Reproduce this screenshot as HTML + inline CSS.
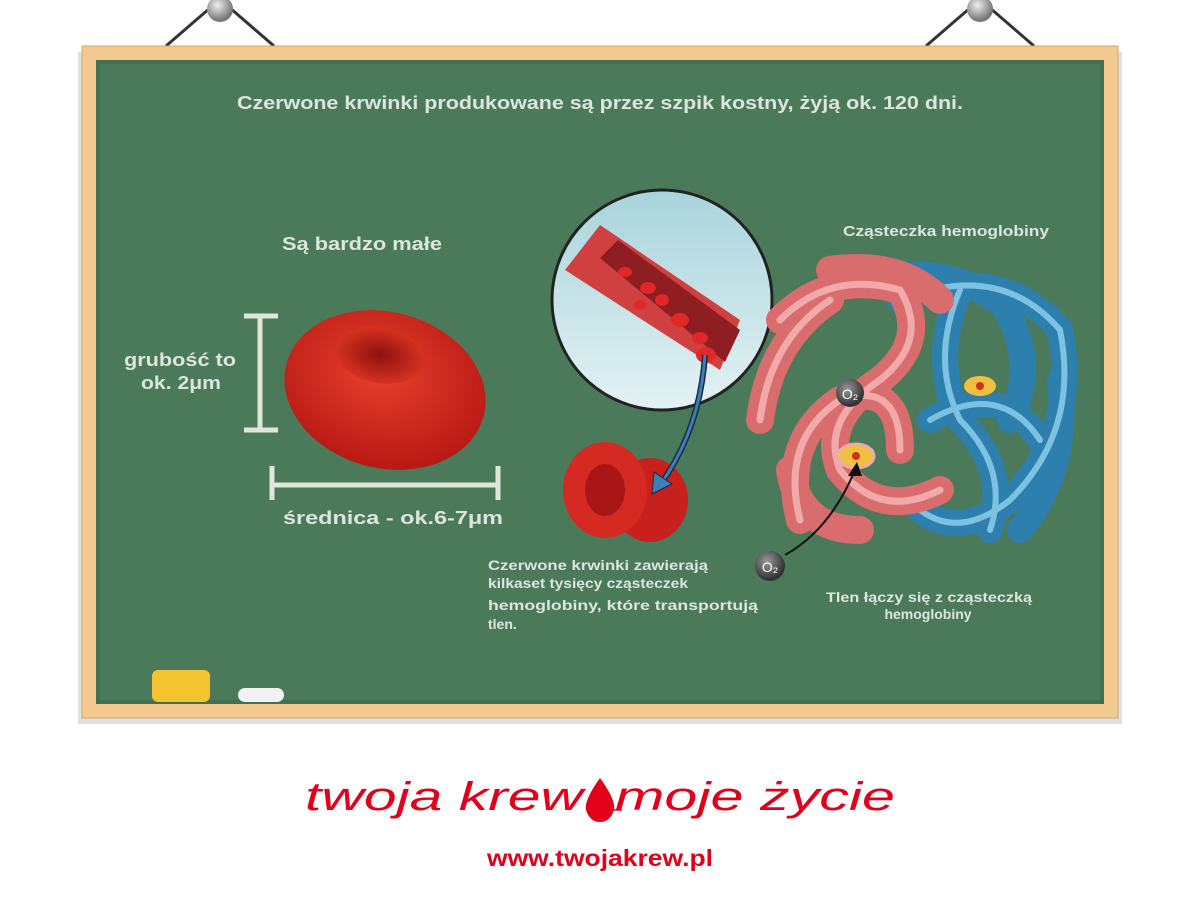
<!DOCTYPE html>
<html><head><meta charset="utf-8"><style>
body{margin:0;width:1200px;height:900px;background:#fff;overflow:hidden}
text{font-family:"Liberation Sans",sans-serif}
</style></head><body>
<svg width="1200" height="900" viewBox="0 0 1200 900">
<defs>
<radialGradient id="pin" cx="0.4" cy="0.35" r="0.6"><stop offset="0" stop-color="#eee"/><stop offset="1" stop-color="#777"/></radialGradient>
<radialGradient id="cell" cx="0.45" cy="0.4" r="0.6"><stop offset="0" stop-color="#e8402e"/><stop offset="1" stop-color="#b81a14"/></radialGradient>
<radialGradient id="dimp" cx="0.5" cy="0.5" r="0.5"><stop offset="0" stop-color="#8e1010"/><stop offset="1" stop-color="#d6321f"/></radialGradient>
<linearGradient id="sky" x1="0" y1="0" x2="0" y2="1"><stop offset="0" stop-color="#a8d4dc"/><stop offset="1" stop-color="#e4f2f4"/></linearGradient>
<radialGradient id="o2" cx="0.4" cy="0.35" r="0.6"><stop offset="0" stop-color="#999"/><stop offset="1" stop-color="#333"/></radialGradient>
</defs>
<g stroke="#333" stroke-width="3"><line x1="166" y1="46" x2="210" y2="8"/><line x1="274" y1="46" x2="230" y2="8"/><line x1="926" y1="46" x2="970" y2="8"/><line x1="1034" y1="46" x2="990" y2="8"/></g>
<circle cx="220" cy="9" r="13" fill="url(#pin)"/><circle cx="980" cy="9" r="13" fill="url(#pin)"/>
<rect x="78" y="52" width="1044" height="672" fill="#000" opacity="0.12"/>
<rect x="82" y="46" width="1036" height="672" fill="#f2c98e" stroke="#d4a86a"/>
<rect x="96" y="60" width="1008" height="644" fill="#4b7a5b"/>
<rect x="98" y="62" width="1004" height="640" fill="none" stroke="#426f52" stroke-width="4"/>
<text x="237" y="109" font-size="18" fill="#dde6dc" font-weight="bold" textLength="726" lengthAdjust="spacingAndGlyphs">Czerwone krwinki produkowane są przez szpik kostny, żyją ok. 120 dni.</text>
<text x="282" y="250" font-size="18" fill="#dde6dc" font-weight="bold" textLength="160" lengthAdjust="spacingAndGlyphs">Są bardzo małe</text>
<text x="124" y="366" font-size="18" fill="#dde6dc" font-weight="bold" textLength="112" lengthAdjust="spacingAndGlyphs">grubość to</text>
<text x="141" y="389" font-size="18" fill="#dde6dc" font-weight="bold" textLength="80" lengthAdjust="spacingAndGlyphs">ok. 2μm</text>
<text x="283" y="524" font-size="18" fill="#dde6dc" font-weight="bold" textLength="220" lengthAdjust="spacingAndGlyphs">średnica - ok.6-7μm</text>
<text x="843" y="236" font-size="15" fill="#dde6dc" font-weight="bold" textLength="206" lengthAdjust="spacingAndGlyphs">Cząsteczka hemoglobiny</text>
<g font-size="14" fill="#dde6dc" font-weight="bold"><text x="488" y="570" textLength="220" lengthAdjust="spacingAndGlyphs">Czerwone krwinki zawierają</text><text x="488" y="588" textLength="200" lengthAdjust="spacingAndGlyphs">kilkaset tysięcy cząsteczek</text><text x="488" y="610" textLength="270" lengthAdjust="spacingAndGlyphs">hemoglobiny, które transportują</text><text x="488" y="629">tlen.</text></g>
<text x="826" y="602" font-size="14" fill="#dde6dc" font-weight="bold" textLength="206" lengthAdjust="spacingAndGlyphs">Tlen łączy się z cząsteczką</text>
<text x="928" y="619" font-size="14" fill="#dde6dc" text-anchor="middle" font-weight="bold">hemoglobiny</text>
<g stroke="#dfe6dc" stroke-width="5" fill="none"><line x1="260" y1="316" x2="260" y2="430"/><line x1="244" y1="316" x2="278" y2="316"/><line x1="244" y1="430" x2="278" y2="430"/>
<line x1="272" y1="485" x2="498" y2="485"/><line x1="272" y1="466" x2="272" y2="500"/><line x1="498" y1="466" x2="498" y2="500"/></g>
<ellipse cx="385" cy="390" rx="102" ry="78" transform="rotate(15 385 390)" fill="url(#cell)"/>
<ellipse cx="380" cy="355" rx="45" ry="28" transform="rotate(10 380 355)" fill="url(#dimp)"/>
<circle cx="662" cy="300" r="110" fill="url(#sky)" stroke="#222" stroke-width="3"/>
<path d="M565 270 L600 225 L740 320 L720 370 Z" fill="#d14040"/>
<path d="M600 258 L618 240 L740 330 L725 362 Z" fill="#8e1e22"/>
<g fill="#e02828"><ellipse cx="625" cy="272" rx="7" ry="5"/><ellipse cx="648" cy="288" rx="8" ry="6"/><ellipse cx="662" cy="300" rx="7" ry="6"/><ellipse cx="680" cy="320" rx="9" ry="7"/><ellipse cx="700" cy="338" rx="8" ry="6"/><ellipse cx="706" cy="355" rx="10" ry="8"/><ellipse cx="640" cy="305" rx="6" ry="5"/></g>
<ellipse cx="650" cy="500" rx="38" ry="42" fill="#c8201c"/>
<ellipse cx="605" cy="490" rx="42" ry="48" fill="#d42a22"/>
<ellipse cx="605" cy="490" rx="20" ry="26" fill="#a81616"/>
<path d="M705 355 Q700 430 660 485" stroke="#1a2a40" stroke-width="6" fill="none"/>
<path d="M705 355 Q700 430 660 485" stroke="#3d7db8" stroke-width="3" fill="none"/>
<path d="M652 494 L654 472 L672 484 Z" fill="#3d7db8" stroke="#1a2a40"/>
<g fill="none" stroke-linecap="round">
<g stroke="#2d7fae" stroke-width="26"><path d="M900 300 Q1000 260 1060 330 Q1080 430 1010 500 Q960 540 920 510"/><path d="M930 420 Q1000 380 1040 440"/><path d="M870 280 Q950 260 1010 310"/><path d="M1060 380 Q1070 470 1020 530"/><path d="M960 290 Q930 360 960 420 Q1010 470 990 530"/><path d="M1000 300 Q1040 360 1010 420"/></g>
<g stroke="#7dc2e0" stroke-width="6"><path d="M900 300 Q1000 260 1060 330 Q1080 430 1010 500 Q960 540 920 510"/><path d="M930 420 Q1000 380 1040 440"/><path d="M960 290 Q930 360 960 420 Q1010 470 990 530"/></g>
<g stroke="#d96c6c" stroke-width="28"><path d="M780 320 Q830 270 900 290 Q930 340 880 380 Q820 420 840 470 Q880 520 940 490"/><path d="M760 420 Q770 340 830 300"/><path d="M800 520 Q780 440 840 400 Q900 380 900 450"/><path d="M830 270 Q900 260 940 300"/><path d="M790 470 Q800 530 860 530"/></g>
<g stroke="#f2a9a9" stroke-width="7"><path d="M780 320 Q830 270 900 290 Q930 340 880 380 Q820 420 840 470 Q880 520 940 490"/><path d="M800 520 Q780 440 840 400 Q900 380 900 450"/><path d="M760 420 Q770 340 830 300"/></g>
</g>
<ellipse cx="980" cy="386" rx="16" ry="10" fill="#f0c040"/><circle cx="980" cy="386" r="4" fill="#d03020"/>
<ellipse cx="856" cy="456" rx="18" ry="12" fill="#f0c040" stroke="#f2a9a9" stroke-width="3"/><circle cx="856" cy="456" r="4" fill="#d03020"/>
<circle cx="850" cy="393" r="14" fill="url(#o2)"/><text x="850" y="399" font-size="14" fill="#fff" text-anchor="middle">O₂</text>
<circle cx="770" cy="566" r="15" fill="url(#o2)"/><text x="770" y="572" font-size="14" fill="#fff" text-anchor="middle">O₂</text>
<path d="M785 555 Q830 530 855 470" stroke="#111" stroke-width="2" fill="none"/>
<path d="M857 462 L848 476 L862 476 Z" fill="#111"/>
<rect x="152" y="670" width="58" height="32" rx="6" fill="#f4c430"/>
<rect x="238" y="688" width="46" height="14" rx="7" fill="#f2f2f2"/>
<text x="305" y="810" font-size="40" fill="#e2001a" font-family="Liberation Serif" font-style="italic" textLength="278" lengthAdjust="spacingAndGlyphs">twoja krew</text>
<text x="615" y="810" font-size="40" fill="#e2001a" font-family="Liberation Serif" font-style="italic" textLength="280" lengthAdjust="spacingAndGlyphs">moje życie</text>
<path d="M600 778 Q584 800 586 810 Q590 822 600 822 Q610 822 614 810 Q616 800 600 778 Z" fill="#e2001a"/>
<line x1="612" y1="810" x2="622" y2="810" stroke="#e2001a" stroke-width="1.5"/>
<text x="487" y="866" font-size="23" fill="#e2001a" font-weight="bold" font-family="Liberation Serif" textLength="226" lengthAdjust="spacingAndGlyphs">www.twojakrew.pl</text>
</svg>
</body></html>
